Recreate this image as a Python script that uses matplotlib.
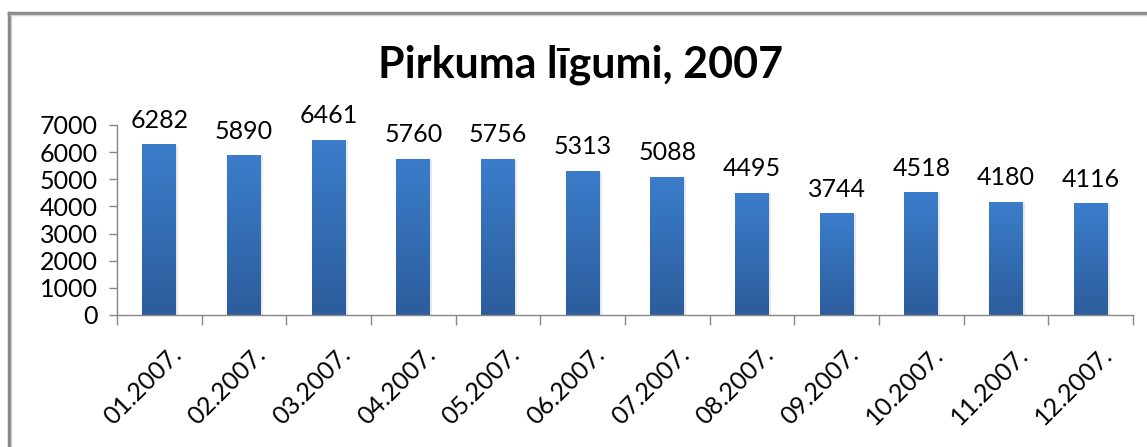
import numpy as np
import matplotlib.pyplot as plt
from matplotlib.lines import Line2D
from matplotlib.transforms import ScaledTranslation

months = ["01.2007.", "02.2007.", "03.2007.", "04.2007.", "05.2007.", "06.2007.",
          "07.2007.", "08.2007.", "09.2007.", "10.2007.", "11.2007.", "12.2007."]
contracts = [6282, 5890, 6461, 5760, 5756, 5313, 5088, 4495, 3744, 4518, 4180, 4116]
y_ticks = [0, 1000, 2000, 3000, 4000, 5000, 6000, 7000]

plt.rcParams["font.family"] = ["Lato", "DejaVu Sans"]

W, H = 1147, 447
fig = plt.figure(figsize=(W / 100, H / 100), dpi=100)
ax = fig.add_axes([117 / W, 1 - 315 / H, (1133 - 117) / W, (315 - 125) / H])

x = np.arange(len(months))
bars = ax.bar(x, contracts, width=0.4, color="none", edgecolor="none", zorder=2)

# vertical gradient inside each bar, darker at the bottom
grad = np.linspace(0, 1, 256).reshape(-1, 1)
cmap = plt.matplotlib.colors.LinearSegmentedColormap.from_list("bar", ["#2c5d9c", "#3b7dcb"])
for b in bars:
    x0, y0 = b.get_x(), b.get_y()
    w, h = b.get_width(), b.get_height()
    # soft shadow
    ax.bar(x0 + w / 2 + 0.025, h, width=w, bottom=-40, color="#d5d5d5", alpha=0.5, zorder=1)
    im = ax.imshow(grad, extent=[x0, x0 + w, y0, y0 + h], origin="lower",
                   cmap=cmap, aspect="auto", zorder=2)
    im.set_clip_path(b)

for xi, v in zip(x, contracts):
    ax.annotate(str(v), (xi, v), xytext=(0, 9), textcoords="offset points",
                ha="center", va="bottom", fontsize=18, color="#000000")

ax.set_xlim(-0.5, len(months) - 0.5)
ax.set_ylim(0, 7000)
ax.set_yticks(y_ticks)
ax.set_xticks(x)
ax.set_xticks(np.arange(-0.5, len(months)), minor=True)
ax.set_xticklabels(months, rotation=45, ha="right", rotation_mode="anchor", fontsize=18)
ax.tick_params(axis="x", which="major", length=0, pad=20)
ax.tick_params(axis="x", which="minor", length=7, color="#868686", width=1)
ax.tick_params(axis="y", length=6, color="#868686", width=1, labelsize=18, pad=8)
shift = ScaledTranslation(10 / 100, 0, fig.dpi_scale_trans)
for lab in ax.get_xticklabels():
    lab.set_transform(lab.get_transform() + shift)

for side in ["top", "right"]:
    ax.spines[side].set_visible(False)
for side in ["left", "bottom"]:
    ax.spines[side].set_color("#868686")
    ax.spines[side].set_linewidth(1)

fig.text(581 / W, 1 - 65 / H, "Pirkuma līgumi, 2007", ha="center", va="center",
         fontsize=31, fontweight="bold")

# chart frame (top and left edges visible)
fig.add_artist(Line2D([9 / W, 1.0], [1 - 12.5 / H, 1 - 12.5 / H], color="#8a8a8a", lw=2.5))
fig.add_artist(Line2D([9 / W, 9 / W], [1 - 12.5 / H, 0.0], color="#8a8a8a", lw=2.5))
fig.add_artist(Line2D([11 / W, 1.0], [1 - 14.5 / H, 1 - 14.5 / H], color="#d0d0d0", lw=1))
fig.add_artist(Line2D([11 / W, 11 / W], [1 - 14.5 / H, 0.0], color="#d0d0d0", lw=1))

fig.savefig("out.png", dpi=100)
